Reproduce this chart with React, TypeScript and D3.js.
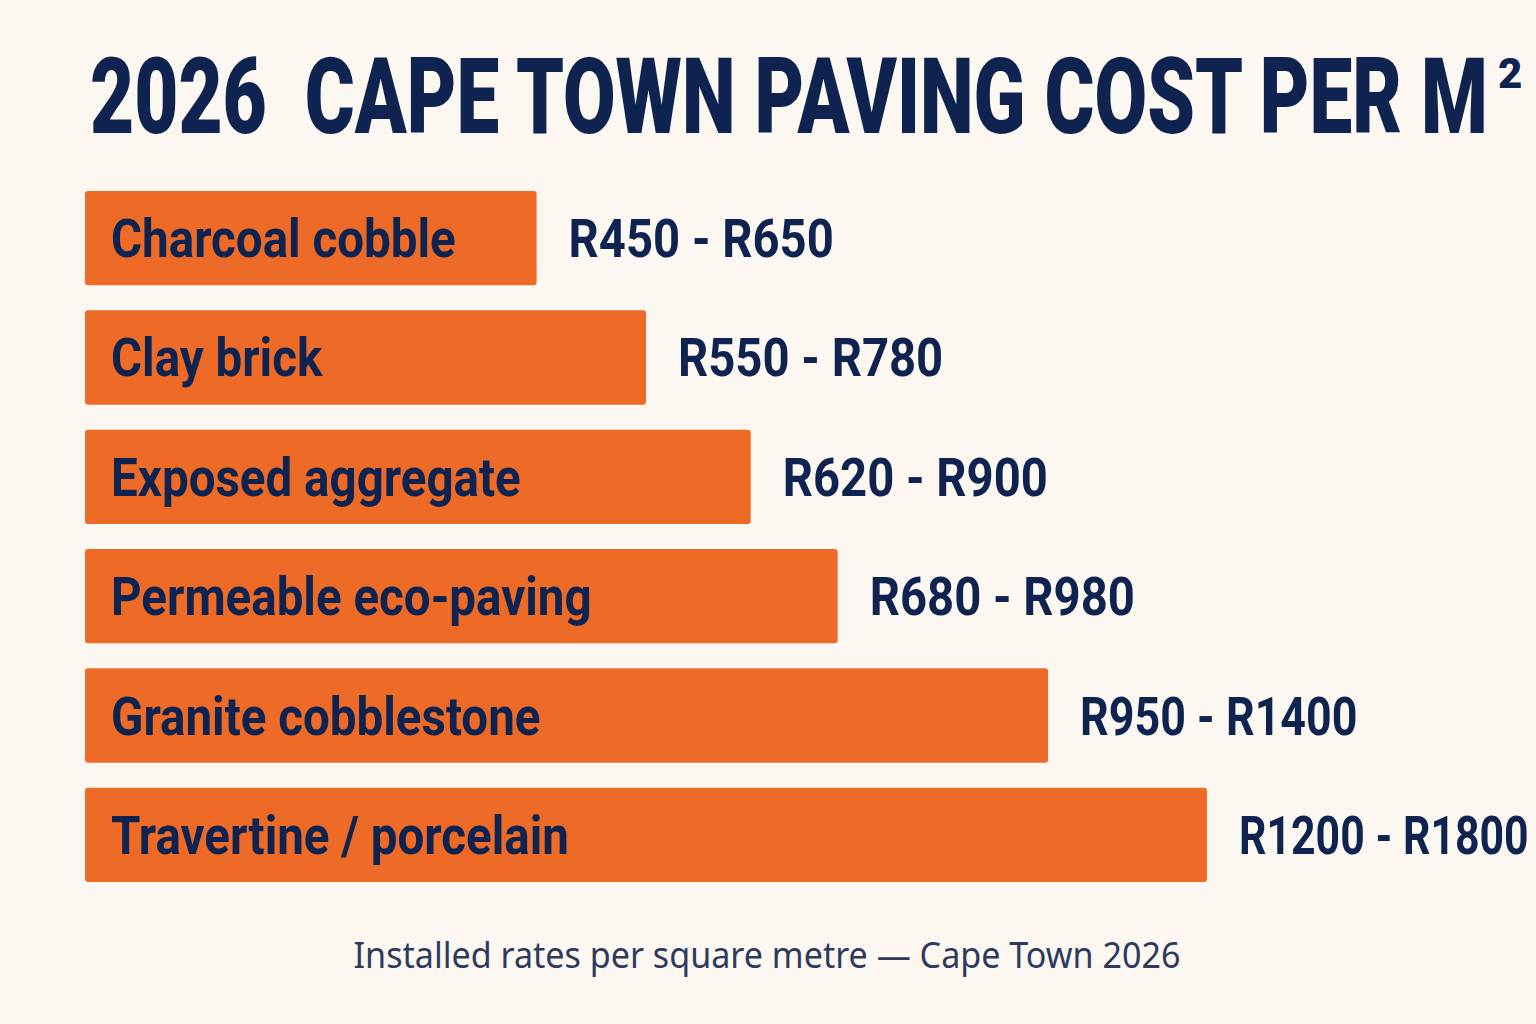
import * as d3 from "d3";
import React, { useEffect, useRef } from "react";

const materials = [
  "Charcoal cobble",
  "Clay brick",
  "Exposed aggregate",
  "Permeable eco-paving",
  "Granite cobblestone",
  "Travertine / porcelain",
];
const lowRate = [450, 550, 620, 680, 950, 1200];
const highRate = [650, 780, 900, 980, 1400, 1800];
// indicative rate each bar is drawn to
const barValue = [483, 600, 712, 805, 1030, 1200];

const W = 1536;
const H = 1024;
const NAVY = "#0f2350";
const ORANGE = "#ee6a27";
const BG = "#fcf8f1";

const App: React.FC = () => {
  const svgRef = useRef<SVGSVGElement>(null);

  useEffect(() => {
    const svg = d3.select(svgRef.current);
    svg.selectAll("*").remove();

    svg.append("rect").attr("width", W).attr("height", H).attr("fill", BG);

    const x = d3.scaleLinear().domain([0, 1200]).range([85, 1207]);
    const y = d3
      .scaleBand<string>()
      .domain(materials)
      .range([191, 882])
      .paddingInner(0.21)
      .paddingOuter(0);

    const rows = svg
      .selectAll("g.row")
      .data(materials)
      .join("g")
      .attr("class", "row");

    rows
      .append("rect")
      .attr("x", x(0))
      .attr("y", (d) => y(d) || 0)
      .attr("width", (_, i) => x(barValue[i]) - x(0))
      .attr("height", y.bandwidth())
      .attr("rx", 3)
      .attr("fill", ORANGE);

    const labelFont = "Roboto, 'Noto Sans', sans-serif";
    const sx = 0.88;
    const sxVal = 0.875;
    const baseY = (d: string) => (y(d) || 0) + y.bandwidth() / 2 + 19;

    rows
      .append("text")
      .attr("transform", (d) => `translate(${x(0) + 26},${baseY(d)}) scale(${sx},1)`)
      .attr("font-family", labelFont)
      .attr("font-weight", 700)
      .attr("font-size", 54)
      .attr("fill", NAVY)
      .text((d) => d);

    // Roboto's "1" is a wide tabular figure; squeeze ranges containing it a bit
    rows
      .append("text")
      .attr("font-family", labelFont)
      .attr("font-weight", 700)
      .attr("font-size", 54)
      .attr("fill", NAVY)
      .text((_, i) => `R${lowRate[i]} - R${highRate[i]}`)
      .each(function (d, i) {
        const el = this as SVGTextElement;
        const ones = (el.textContent || "").split("1").length - 1;
        const w = el.getComputedTextLength();
        const k = sxVal * ((w - ones * 17) / w);
        el.setAttribute(
          "transform",
          `translate(${x(barValue[i]) + 32},${baseY(d)}) scale(${k},1)`
        );
      });

    const title = svg
      .append("text")
      .attr("font-family", labelFont)
      .attr("font-weight", 900)
      .attr("font-size", 106)
      .attr("fill", NAVY)
      .attr("xml:space", "preserve")
      .style("white-space", "pre")
      .text("2026  CAPE TOWN PAVING COST PER M");
    const titleW = (title.node() as SVGTextElement).getComputedTextLength();
    title.attr("transform", `translate(90,133) scale(${1398 / titleW},1)`);

    svg
      .append("text")
      .attr("x", 1498)
      .attr("y", 88)
      .attr("font-family", labelFont)
      .attr("font-weight", 900)
      .attr("font-size", 42)
      .attr("fill", NAVY)
      .text("2");

    svg
      .append("text")
      .attr("transform", `translate(767,968) scale(0.947,1)`)
      .attr("text-anchor", "middle")
      .attr("font-family", "'Noto Sans', Roboto, sans-serif")
      .attr("font-size", 36)
      .attr("fill", "#2e3a5c")
      .text("Installed rates per square metre \u2014 Cape Town 2026");
  }, []);

  return (
    <svg
      ref={svgRef}
      width={W}
      height={H}
      style={{ position: "absolute", left: 0, top: 0 }}
    />
  );
};

export default App;
